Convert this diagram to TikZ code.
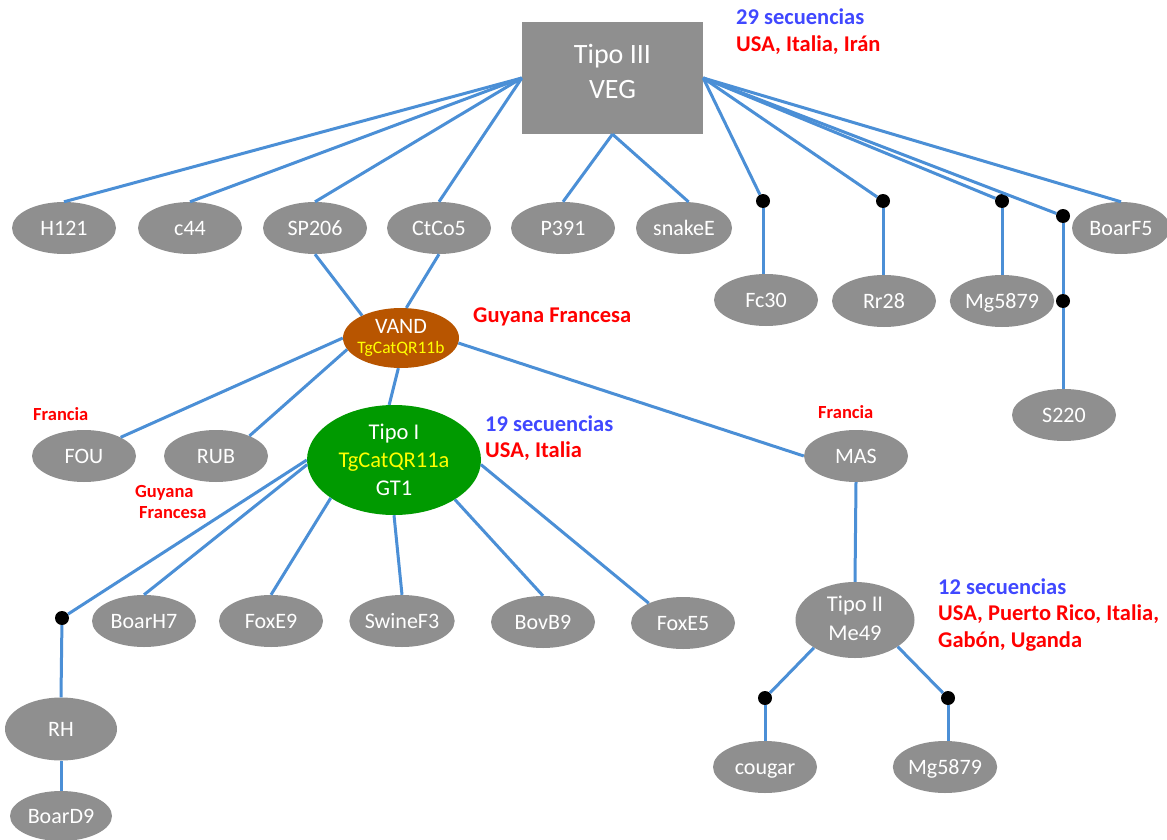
\documentclass[tikz,border=0pt]{standalone}
\usepackage{fontspec}
\setmainfont{Carlito}
\usetikzlibrary{shapes.geometric}
\definecolor{nodegray}{HTML}{8F8F8F}
\definecolor{linkblue}{HTML}{4B8FD6}
\definecolor{vandbrown}{HTML}{B85500}
\definecolor{tipogreen}{HTML}{009A00}
\definecolor{labblue}{HTML}{4048FF}
\definecolor{labred}{HTML}{FF0000}
\definecolor{txtyellow}{HTML}{FFFF00}
\begin{document}
\begin{tikzpicture}[x=1pt,y=-1pt,
  gnode/.style={ellipse, fill=nodegray, text=white, inner sep=0pt,
    minimum width=104pt, minimum height=52pt, text height=14.2pt, text depth=0pt,
    font=\fontsize{22}{26}\selectfont},
  bignode/.style={ellipse, inner sep=0pt},
  intext/.style={anchor=base, inner sep=0pt, text=white, font=\fontsize{22.5}{26}\selectfont},
  link/.style={draw=linkblue, line width=3pt},
  jdot/.style={circle, fill=black, inner sep=0pt, minimum size=14pt},
  biglab/.style={anchor=base west, inner sep=0pt, font=\bfseries\fontsize{22.5}{27}\selectfont},
  smalllab/.style={anchor=base west, inner sep=0pt, text=labred, font=\bfseries\fontsize{18.5}{22}\selectfont}]
\useasboundingbox (0,0) rectangle (1167,840);
\fill[white] (0,0) rectangle (1167,840);

% Tipo III
\node[rectangle, fill=nodegray, minimum width=181pt, minimum height=112pt, inner sep=0pt] (T3) at (612.5,78) {};
\node[intext, font=\fontsize{28}{34}\selectfont] (T3a) at (612.5,64) {Tipo III};
\node[intext, font=\fontsize{28}{34}\selectfont] (T3b) at (612.5,99) {VEG};

% top row
\node[gnode] (H121) at (64,228) {H121};
\node[gnode] (c44) at (190,228) {c44};
\node[gnode] (SP206) at (315,228) {SP206};
\node[gnode] (CtCo5) at (439,228) {CtCo5};
\node[gnode] (P391) at (563,228) {P391};
\node[gnode, minimum width=96pt] (snakeE) at (684,228) {snakeE};
\node[gnode, minimum width=98pt] (BoarF5) at (1121,228) {BoarF5};

\node[jdot] (d1) at (763,201) {};
\node[jdot] (d2) at (883,201) {};
\node[jdot] (d3) at (1002,201) {};
\node[jdot] (d4) at (1063,216) {};
\node[jdot] (d5) at (1063,301) {};

\node[gnode] (Fc30) at (766,300) {Fc30};
\node[gnode] (Rr28) at (884,301) {Rr28};
\node[gnode] (Mg5879a) at (1002,301) {Mg5879};
\node[gnode] (S220) at (1064,415) {S220};

% VAND
\node[bignode, fill=vandbrown, minimum width=116pt, minimum height=60pt] (VAND) at (401,338) {};
\node[intext, font=\fontsize{22}{26}\selectfont] (VANDa) at (401,333) {VAND};
\node[intext, text=txtyellow, font=\fontsize{17.5}{20}\selectfont] (VANDb) at (401,353) {TgCatQR11b};

\node[gnode] (FOU) at (84,456) {FOU};
\node[gnode] (RUB) at (216,456) {RUB};
\node[gnode] (MAS) at (856,456) {MAS};

% Tipo I
\node[bignode, fill=tipogreen, minimum width=174pt, minimum height=110pt] (T1) at (394,460) {};
\node[intext] (T1a) at (394,439) {Tipo I};
\node[intext, text=txtyellow] (T1b) at (394,467) {TgCatQR11a};
\node[intext] (T1c) at (394,495) {GT1};

\node[jdot] (d6) at (62,618) {};
\node[gnode] (BoarH7) at (144,621) {BoarH7};
\node[gnode] (FoxE9) at (271,621) {FoxE9};
\node[gnode] (SwineF3) at (402,621) {SwineF3};
\node[gnode] (BovB9) at (543,622) {BovB9};
\node[gnode] (FoxE5) at (683,623) {FoxE5};

\node[gnode, minimum width=112pt, minimum height=63pt] (RH) at (61,729) {RH};
\node[gnode, minimum width=102pt, minimum height=50pt] (BoarD9) at (61,816) {BoarD9};

% Tipo II
\node[gnode, minimum width=119pt, minimum height=76pt] (T2) at (855,620) {};
\node[intext] (T2a) at (855,611) {Tipo II};
\node[intext] (T2b) at (855,640) {Me49};
\node[jdot] (d7) at (765,698) {};
\node[jdot] (d8) at (948,698) {};
\node[gnode] (cougar) at (765,767) {cougar};
\node[gnode] (Mg5879b) at (945,767) {Mg5879};

% connectors
\draw[link] (T3.west) -- (H121.north);
\draw[link] (T3.west) -- (c44.north);
\draw[link] (T3.west) -- (SP206.north);
\draw[link] (T3.west) -- (CtCo5.north);
\draw[link] (T3.south) -- (P391.north);
\draw[link] (T3.south) -- (snakeE.80);
\draw[link] (T3.east) -- (d1);
\draw[link] (T3.east) -- (d2);
\draw[link] (T3.east) -- (d3);
\draw[link] (T3.east) -- (d4);
\draw[link] (T3.east) -- (BoarF5.north);
\draw[link] (d1) -- (d1 |- Fc30.north);
\draw[link] (d2) -- (d2 |- Rr28.north);
\draw[link] (d3) -- (d3 |- Mg5879a.north);
\draw[link] (d4) -- (d5);
\draw[link] (d5) -- (d5 |- S220.north);
\draw[link] (SP206.south) -- (VAND.150);
\draw[link] (CtCo5.south) -- (VAND.80);
\draw[link] (VAND.180) -- (FOU.27);
\draw[link] (VAND.192) -- (RUB.31);
\draw[link] (VAND.265) -- (T1.95);
\draw[link] (VAND.355) -- (MAS.west);
\draw[link] (T1.180) -- (d6);
\draw[link] (T1.183) -- (BoarH7.north);
\draw[link] (T1.211) -- (FoxE9.north);
\draw[link] (T1.270) -- (SwineF3.north);
\draw[link] (T1.-33) -- (BovB9.north);
\draw[link] (T1.-3) -- (FoxE5.150);
\draw[link] (d6) -- (RH.north);
\draw[link] (RH.south) -- (BoarD9.north);
\draw[link] (MAS.south) -- (T2.north);
\draw[link] (T2.214) -- (d7);
\draw[link] (T2.-32) -- (d8);
\draw[link] (d7) -- (cougar.north);
\draw[link] (d8) -- (d8 |- Mg5879b.north);

% labels
\node[biglab, text=labblue] (L1) at (736,25) {29 secuencias};
\node[biglab, text=labred] (L2) at (736,52) {USA, Italia, Irán};
\node[biglab, text=labred] (L3) at (473,322) {Guyana Francesa};
\node[biglab, text=labblue] (L4) at (485,431) {19 secuencias};
\node[biglab, text=labred] (L5) at (485,457) {USA, Italia};
\node[biglab, text=labblue] (L6) at (938,594) {12 secuencias};
\node[biglab, text=labred] (L7) at (938,620) {USA, Puerto Rico, Italia,};
\node[biglab, text=labred] (L8) at (938,647) {Gabón, Uganda};
\node[smalllab] (S1) at (33,420) {Francia};
\node[smalllab] (S2) at (135,497) {Guyana};
\node[smalllab] (S3) at (139,518) {Francesa};
\node[smalllab] (S4) at (818,418) {Francia};
\end{tikzpicture}
\end{document}
